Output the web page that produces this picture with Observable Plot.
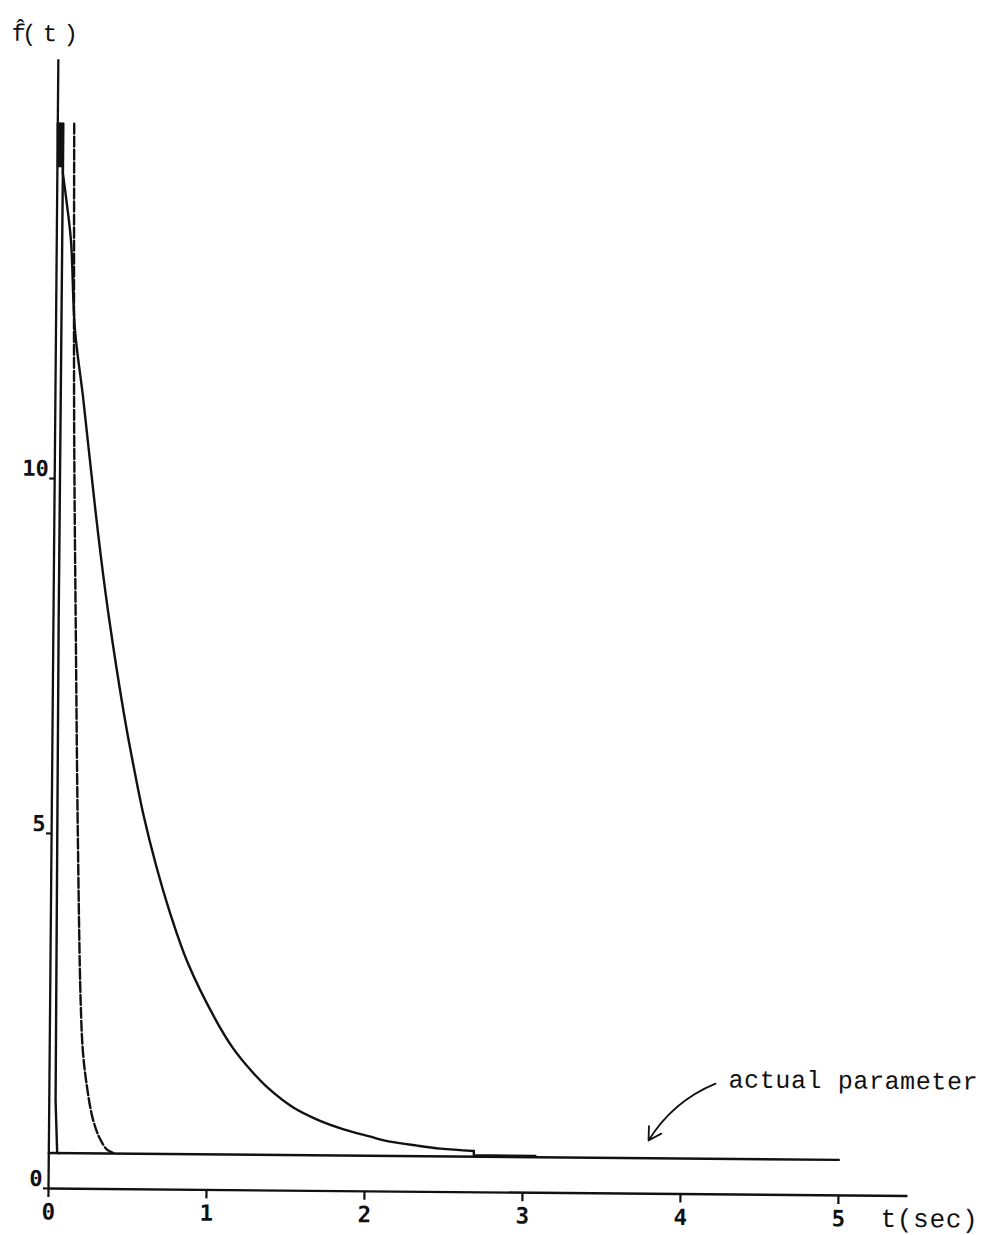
<!DOCTYPE html>
<html>
<head>
<meta charset="utf-8">
<script src="https://cdn.jsdelivr.net/npm/d3@7"></script>
<script src="https://cdn.jsdelivr.net/npm/@observablehq/plot@0.6"></script>
<style>
html, body { margin: 0; padding: 0; background: #ffffff; }
#chart { width: 987px; height: 1235px; overflow: hidden; background: #ffffff; }
/* the scanned original is skewed by about half a degree */
#chart svg { transform-origin: 48px 1188px; transform: rotate(0.5deg); }
</style>
</head>
<body>
<div id="chart"></div>
<script>
// ---- data ----
// curve 1 (solid, fast estimator)
const curve1T = [0.035, 0.033, 0.040, 0.053, 0.070];
const curve1V = [15.0, 8.0, 1.24, 0.5, 0.5];

// curve 2 (dashed)
const curve2T = [0.104, 0.120, 0.144, 0.166, 0.193, 0.210, 0.235, 0.275, 0.320, 0.370, 0.420];
const curve2V = [15.0, 10.8, 7.6, 5.0, 2.65, 1.94, 1.48, 1.0, 0.72, 0.55, 0.5];

// curve 3 (solid, slow estimator): initial burst near 15, then the decay
const curve3HeadT = [0.000, 0.004, 0.008, 0.012, 0.016, 0.020, 0.024, 0.028, 0.032, 0.035];
const curve3HeadV = [15.0, 14.4, 15.0, 14.4, 15.0, 14.4, 15.0, 14.4, 15.0, 14.3];
const curve3T = [0.035, 0.060, 0.090, 0.120, 0.175, 0.220, 0.260, 0.300, 0.351, 0.451, 0.516, 0.583, 0.661, 0.758, 0.868, 1.048, 1.160, 1.270, 1.380, 1.545, 1.700, 1.865, 2.035, 2.120, 2.330, 2.480, 2.690];
const curve3V = [14.3, 13.9, 13.35, 12.1, 11.15, 10.3, 9.55, 8.85, 8.05, 6.7, 5.95, 5.25, 4.58, 3.87, 3.2, 2.4, 2.0, 1.7, 1.45, 1.17, 1.0, 0.87, 0.77, 0.72, 0.65, 0.61, 0.58];
const curve3TailT = [2.690, 2.690, 3.080];
const curve3TailV = [0.58, 0.52, 0.52];

// actual parameter
const actualT = [0, 5];
const actualV = [0.5, 0.5];

// axes
const xTicks = [0, 1, 2, 3, 4, 5];
const yTicks = [0, 5, 10];
const xAxisExtent = [0, 5.44];
const yAxisExtent = [0, 15.9];
const yDomain = [0, 16];

// texts / annotation
const yLabelText = "f\u0302( t )";
const xLabelText = "t(sec)";
const annotationText = "actual parameter";
const annotationAt = [4.298, 1.62];
const arrowFrom = [4.216, 1.56];
const arrowTo = [3.795, 0.75];

// ---- build ----
const rows = (ts, vs) => ts.map((t, i) => ({t, v: vs[i]}));
const ink = "#111111";
const mono = "'Liberation Mono', 'DejaVu Sans Mono', monospace";
const tickFont = "'DejaVu Sans Mono', monospace";
const lw = 2.4;

const chart = Plot.plot({
  width: 987,
  height: 1235,
  marginLeft: 48,
  marginRight: 79.5,
  marginTop: 52,
  marginBottom: 47,
  style: {background: "#ffffff", color: ink, overflow: "visible"},
  x: {domain: xAxisExtent},
  y: {domain: yDomain},
  marks: [
    // axes lines
    Plot.ruleY([0], {x1: xAxisExtent[0], x2: xAxisExtent[1], stroke: ink, strokeWidth: 2.3}),
    Plot.ruleX([0], {y1: yAxisExtent[0], y2: yAxisExtent[1], stroke: ink, strokeWidth: 2.3}),
    Plot.axisX(xTicks, {
      tickSize: 9, tickPadding: 6, stroke: ink, strokeWidth: 2.2,
      fontSize: 22.5, fontWeight: "bold", fontFamily: tickFont,
      tickFormat: d => String(d), label: null
    }),
    Plot.axisY(yTicks, {tickSize: 5, stroke: ink, strokeWidth: 2.2, fill: "none", label: null}),
    Plot.text(yTicks, {
      x: 0, y: d => d, text: d => String(d),
      textAnchor: "end", lineAnchor: "middle", dx: -6, dy: -9.5,
      fontSize: 22, fontWeight: "bold", fontFamily: tickFont, fill: ink
    }),
    // actual parameter
    Plot.line(rows(actualT, actualV), {x: "t", y: "v", stroke: ink, strokeWidth: lw}),
    // estimates
    Plot.line(rows(curve3HeadT, curve3HeadV), {x: "t", y: "v", stroke: ink, strokeWidth: lw}),
    Plot.line(rows(curve3T, curve3V), {x: "t", y: "v", stroke: ink, strokeWidth: lw, curve: "catmull-rom"}),
    Plot.line(rows(curve3TailT, curve3TailV), {x: "t", y: "v", stroke: ink, strokeWidth: lw}),
    Plot.line(rows(curve2T, curve2V), {x: "t", y: "v", stroke: ink, strokeWidth: lw, strokeDasharray: "10,3", curve: "catmull-rom"}),
    Plot.line(rows(curve1T, curve1V), {x: "t", y: "v", stroke: ink, strokeWidth: lw}),
    // annotation
    Plot.arrow([{x1: arrowFrom[0], y1: arrowFrom[1], x2: arrowTo[0], y2: arrowTo[1]}], {
      x1: "x1", y1: "y1", x2: "x2", y2: "y2", bend: -18, headLength: 12, stroke: ink, strokeWidth: 1.8
    }),
    Plot.text([annotationText], {
      x: annotationAt[0], y: annotationAt[1], text: d => d,
      textAnchor: "start", lineAnchor: "middle", fontSize: 25, fontFamily: mono, fill: ink
    }),
    // axis titles
    Plot.text([xLabelText], {
      frameAnchor: "bottom-right", text: d => d, textAnchor: "start", lineAnchor: "middle",
      dx: -27.2, dy: 22.7, fontSize: 26, fontFamily: mono, fill: ink
    }),
    Plot.text([yLabelText], {
      frameAnchor: "top-left", text: d => d, textAnchor: "start", lineAnchor: "middle",
      dx: -47, dy: -19, fontSize: 24, fontFamily: mono, fill: ink
    })
  ]
});

chart.querySelectorAll("text").forEach(el => {
  const s = el.textContent;
  if (s === annotationText) el.setAttribute("letter-spacing", "0.6");
  if (s === xLabelText) el.setAttribute("letter-spacing", "0.7");
  if (s === yLabelText) el.setAttribute("letter-spacing", "-4");
});

document.getElementById("chart").appendChild(chart);
</script>
</body>
</html>
